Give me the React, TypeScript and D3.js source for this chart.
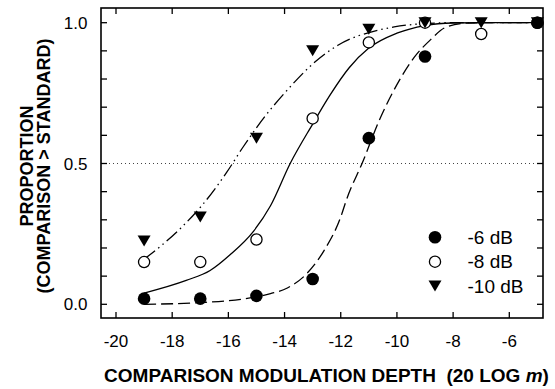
import React from "react";
import * as d3 from "d3";

const xTicks = [-20, -18, -16, -14, -12, -10, -8, -6];
const yTicksMinor = [0, 0.1, 0.2, 0.3, 0.4, 0.5, 0.6, 0.7, 0.8, 0.9, 1.0];
const yTickLabels = [0, 0.5, 1.0];

const depths = [-19, -17, -15, -13, -11, -9, -7, -5];
const db6: (number | null)[] = [0.02, 0.02, 0.03, 0.09, 0.59, 0.88, null, 1.0];
const db8 = [0.15, 0.15, 0.23, 0.66, 0.93, 1.0, 0.96, 1.0];
const db10 = [0.225, 0.31, 0.59, 0.9, 0.977, 1.0, 1.0, 1.0];

// fitted curves: [depth, proportion]
const fit6: [number, number][] = [
  [-19, 0.0], [-17, 0.006], [-15.4, 0.02], [-14.5, 0.038], [-13.9, 0.058],
  [-13.2, 0.11], [-12.6, 0.19], [-12.0, 0.31], [-11.8, 0.37], [-11.2, 0.51],
  [-10.6, 0.66], [-10.0, 0.78], [-9.4, 0.875], [-8.8, 0.94], [-8.3, 0.982],
  [-7.6, 0.998], [-7, 1.0], [-5, 1.0],
];
const fit8: [number, number][] = [
  [-19, 0.04], [-17.5, 0.085], [-16.65, 0.12], [-15.95, 0.175], [-15.1, 0.26],
  [-14.5, 0.35], [-13.8, 0.5], [-13.0, 0.64], [-12.4, 0.74], [-11.7, 0.84],
  [-11.0, 0.91], [-10.0, 0.963], [-9.0, 0.99], [-8, 0.999], [-7, 1.0], [-5, 1.0],
];
const fit10: [number, number][] = [
  [-19, 0.16], [-17.7, 0.27], [-16.95, 0.35], [-16.05, 0.47], [-15.5, 0.555],
  [-14.7, 0.667], [-14.0, 0.75], [-12.9, 0.862], [-12.1, 0.92], [-10.6, 0.975],
  [-10.1, 0.985], [-9, 0.997], [-8, 1.0], [-5, 1.0],
];

const legendLabels = ["-6 dB", "-8 dB", "-10 dB"];

const W = 555;
const H = 389;
const left = 101, right = 543, top = 8, bottom = 318;

export default function App() {
  const x = d3.scaleLinear().domain([-20, -6]).range([116, 509.3]);
  const y = d3.scaleLinear().domain([0, 1]).range([304.3, 22.7]);
  const line = d3
    .line<[number, number]>()
    .x((d) => x(d[0]))
    .y((d) => y(d[1]))
    .curve(d3.curveMonotoneX);

  const font = "'Liberation Sans', Arial, Helvetica, sans-serif";
  const tri = (cx: number, cy: number, w = 13, h = 11) =>
    `M${cx - w / 2},${cy - h / 2}L${cx + w / 2},${cy - h / 2}L${cx},${cy + h / 2}Z`;

  return (
    <svg
      width={W}
      height={H}
      style={{ position: "absolute", left: 0, top: 0, background: "#fff" }}
      fontFamily={font}
    >
      <rect x={0} y={0} width={W} height={H} fill="#fff" />
      {/* 0.5 dotted reference */}
      <line
        x1={left}
        x2={right}
        y1={y(0.5)}
        y2={y(0.5)}
        stroke="#444"
        strokeWidth={1}
        strokeDasharray="1,3"
      />
      {/* frame */}
      <rect x={left} y={top} width={right - left} height={bottom - top} fill="none" stroke="#000" strokeWidth={1.6} />
      {/* x ticks */}
      {xTicks.map((t) => (
        <g key={"xt" + t}>
          <line x1={x(t)} x2={x(t)} y1={bottom} y2={bottom - 6} stroke="#000" strokeWidth={1.3} />
          <line x1={x(t)} x2={x(t)} y1={top} y2={top + 6} stroke="#000" strokeWidth={1.3} />
          <text x={x(t)} y={346.5} textAnchor="middle" fontSize={17}>
            {t}
          </text>
        </g>
      ))}
      {/* y ticks */}
      {yTicksMinor.map((t) => (
        <g key={"yt" + t}>
          <line x1={left} x2={left + 6} y1={y(t)} y2={y(t)} stroke="#000" strokeWidth={1.3} />
          <line x1={right} x2={right - 6} y1={y(t)} y2={y(t)} stroke="#000" strokeWidth={1.3} />
        </g>
      ))}
      {yTickLabels.map((t) => (
        <text key={"yl" + t} x={87.5} y={y(t) + 6} textAnchor="end" fontSize={17}>
          {t.toFixed(1)}
        </text>
      ))}
      {/* curves */}
      <path d={line(fit6) || ""} fill="none" stroke="#000" strokeWidth={1.3} strokeDasharray="12,5" />
      <path d={line(fit8) || ""} fill="none" stroke="#000" strokeWidth={1.3} />
      <path d={line(fit10) || ""} fill="none" stroke="#000" strokeWidth={1.3} strokeDasharray="14,4,1.5,4,1.5,4" />
      {/* markers */}
      {depths.map((d, i) => (
        <circle key={"o" + i} cx={x(d)} cy={y(db8[i])} r={5.6} fill="#fff" stroke="#000" strokeWidth={1.3} />
      ))}
      {depths.map((d, i) => (
        <path key={"t" + i} d={tri(x(d), y(db10[i]))} fill="#000" />
      ))}
      {depths.map((d, i) =>
        db6[i] == null ? null : (
          <circle key={"f" + i} cx={x(d)} cy={y(db6[i] as number)} r={6.3} fill="#000" />
        )
      )}
      {/* legend */}
      <circle cx={435} cy={237.3} r={6.3} fill="#000" />
      <circle cx={435} cy={261.7} r={5.6} fill="#fff" stroke="#000" strokeWidth={1.3} />
      <path d={tri(435, 286)} fill="#000" />
      {legendLabels.map((l, i) => (
        <text key={l} x={467.5} y={243.8 + i * 24.35} fontSize={19}>
          {l}
        </text>
      ))}
      {/* axis titles */}
      <text x={326.5} y={381.5} textAnchor="middle" fontSize={19} fontWeight="bold">
        COMPARISON MODULATION DEPTH{"\u00a0\u00a0"}(20 LOG <tspan fontStyle="italic">m</tspan>)
      </text>
      <g transform={`translate(33.3,${166}) rotate(-90)`}>
        <text x={0} y={0} textAnchor="middle" fontSize={18} fontWeight="bold">
          PROPORTION
        </text>
        <text x={0} y={16.5} textAnchor="middle" fontSize={18} fontWeight="bold">
          (COMPARISON &gt; STANDARD)
        </text>
      </g>
    </svg>
  );
}
